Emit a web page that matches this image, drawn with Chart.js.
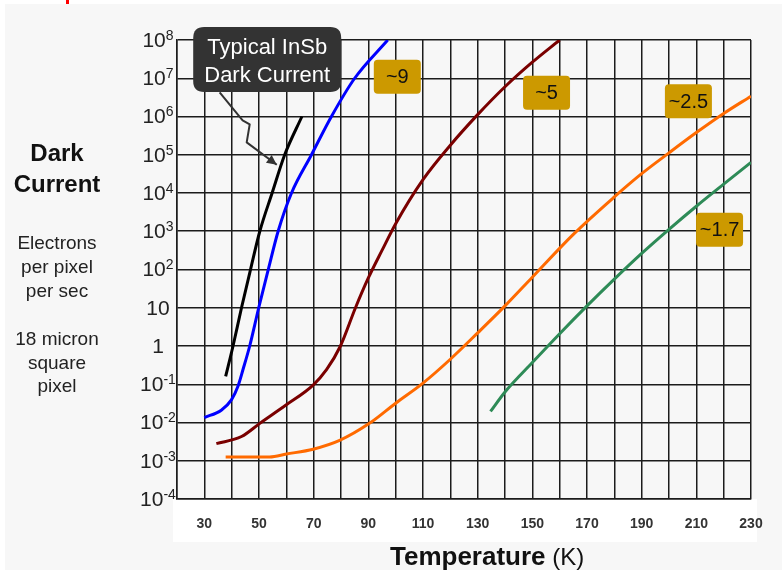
<!DOCTYPE html>
<html>
<head>
<meta charset="utf-8">
<script src="https://cdn.jsdelivr.net/npm/chart.js@4.4.1/dist/chart.umd.min.js"></script>
<style>
  body { margin: 0; background: #ffffff; }
  canvas { display: block; }
</style>
</head>
<body>
<canvas id="darkChart" width="782" height="570"></canvas>
<script>
'use strict';
// temperatures (K) and dark current (electrons/pixel/sec)
var insbTemps = [37.8, 40.5, 43.6, 46.9, 50.3, 54.8, 59.4, 65.7];
var insbCurrent = [1.6e-1, 1, 10, 100, 1e3, 1e4, 1e5, 1e6];

var blueTemps = [30, 36.2, 39.9, 42.3, 44.2, 46.6, 49.9, 53.4, 57, 61.9, 69.2, 76.5, 85, 97.1];
var blueCurrent = [1.35e-2, 2.1e-2, 3.9e-2, 8.9e-2, 2.5e-1, 1, 10, 100, 1e3, 1e4, 1e5, 1e6, 1e7, 1e8];

var redTemps = [34.4, 43.6, 50.3, 60, 69.8, 74.7, 79.8, 85.3, 90, 95, 100, 110, 120, 130, 140, 150, 160];
var redCurrent = [2.8e-3, 4.3e-3, 9.5e-3, 2.9e-2, 9.5e-2, 2.4e-1, 1, 10, 60, 316, 1.58e3, 2.24e4, 1.78e5, 1.12e6, 6.0e6, 2.63e7, 1e8];

var orangeTemps = [37.8, 53.9, 60, 69.8, 79.5, 90.4, 100, 110, 120, 130, 140, 150, 165, 180, 190, 200, 210, 220, 230];
var orangeCurrent = [1.26e-3, 1.26e-3, 1.5e-3, 2.0e-3, 3.4e-3, 9.5e-3, 3.2e-2, 0.107, 0.45, 2.2, 11.2, 63, 830, 7.9e3, 3.2e4, 1.12e5, 3.8e5, 1.2e6, 3.4e6];

var greenTemps = [134.7, 140, 150, 160, 170, 180, 190, 200, 210, 220, 230];
var greenCurrent = [1.95e-2, 6.3e-2, 0.37, 2.1, 11.2, 56, 263, 1.12e3, 4.5e3, 1.7e4, 6.3e4];

var xTickLabels = [30, 50, 70, 90, 110, 130, 150, 170, 190, 210, 230];
var yTickValues = [1e8, 1e7, 1e6, 1e5, 1e4, 1e3, 1e2, 10, 1, 1e-1, 1e-2, 1e-3, 1e-4];
var yTickLabels = ['10^8', '10^7', '10^6', '10^5', '10^4', '10^3', '10^2', '10', '1', '10^-1', '10^-2', '10^-3', '10^-4'];

// slope labels, placed in data units
var slopeLabels = ['~9', '~5', '~2.5', '~1.7'];
var slopeLabelTemps = [100.6, 155.2, 207.1, 218.5];
var slopeLabelCurrent = [1.1e7, 4.2e6, 2.5e6, 1.1e3];

var FONT = '"Liberation Sans", Arial, Helvetica, sans-serif';

function curve(label, xs, ys, colour) {
  return {
    label: label,
    data: xs.map(function(t, i) { return {x: t, y: ys[i]}; }),
    borderColor: colour,
    borderWidth: 3,
    pointRadius: 0,
    fill: false,
    cubicInterpolationMode: 'monotone'
  };
}

function roundBox(ctx, x, y, w, h, r) {
  ctx.beginPath();
  ctx.moveTo(x + r, y);
  ctx.lineTo(x + w - r, y);
  ctx.quadraticCurveTo(x + w, y, x + w, y + r);
  ctx.lineTo(x + w, y + h - r);
  ctx.quadraticCurveTo(x + w, y + h, x + w - r, y + h);
  ctx.lineTo(x + r, y + h);
  ctx.quadraticCurveTo(x, y + h, x, y + h - r);
  ctx.lineTo(x, y + r);
  ctx.quadraticCurveTo(x, y, x + r, y);
  ctx.closePath();
}

var backdrop = {
  id: 'backdrop',
  beforeDraw: function(chart) {
    var ctx = chart.ctx;
    var area = chart.chartArea;
    ctx.save();
    ctx.fillStyle = '#ffffff';
    ctx.fillRect(0, 0, chart.width, chart.height);
    ctx.fillStyle = '#f7f7f7';
    ctx.fillRect(5, 4, chart.width - 5, chart.height - 4);
    ctx.fillStyle = '#ffffff';
    ctx.fillRect(area.left - 4, area.bottom, area.right - area.left + 10, 43);
    ctx.fillStyle = '#ff0000';
    ctx.fillRect(66, 0, 3, 4);
    ctx.restore();
  }
};

var extras = {
  id: 'extras',
  afterDraw: function(chart) {
    var ctx = chart.ctx;
    var xs = chart.scales.x;
    var ys = chart.scales.y;
    var area = chart.chartArea;
    ctx.save();

    // y tick labels with superscripts
    ctx.fillStyle = '#222';
    ctx.textBaseline = 'middle';
    yTickLabels.forEach(function(lab, i) {
      var parts = lab.split('^');
      var py = ys.getPixelForValue(yTickValues[i]);
      ctx.font = '21px ' + FONT;
      var wb = ctx.measureText(parts[0]).width;
      ctx.font = '14px ' + FONT;
      var we = parts[1] ? ctx.measureText(parts[1]).width : 0;
      var left = area.left - 19 - (wb + we) / 2;
      ctx.font = '21px ' + FONT;
      ctx.textAlign = 'left';
      ctx.fillText(parts[0], left, py + 1);
      if (parts[1]) {
        ctx.font = '14px ' + FONT;
        ctx.fillText(parts[1], left + wb, py - 4);
      }
    });

    // left axis description
    ctx.textAlign = 'center';
    ctx.fillStyle = '#111';
    ctx.font = 'bold 24px ' + FONT;
    ctx.fillText('Dark', 57, 154);
    ctx.fillText('Current', 57, 185);
    ctx.fillStyle = '#222';
    ctx.font = '19px ' + FONT;
    ['Electrons', 'per pixel', 'per sec'].forEach(function(t, i) {
      ctx.fillText(t, 57, 244 + i * 24);
    });
    ['18 micron', 'square', 'pixel'].forEach(function(t, i) {
      ctx.fillText(t, 57, 340 + i * 23.5);
    });

    // x axis title
    ctx.textAlign = 'left';
    ctx.fillStyle = '#111';
    ctx.font = 'bold 26px ' + FONT;
    ctx.fillText('Temperature', 390, 558);
    var tw = ctx.measureText('Temperature').width;
    ctx.font = '24px ' + FONT;
    ctx.fillText(' (K)', 390 + tw, 558);

    // slope labels
    slopeLabels.forEach(function(t, i) {
      var cx = xs.getPixelForValue(slopeLabelTemps[i]);
      var cy = ys.getPixelForValue(slopeLabelCurrent[i]);
      ctx.fillStyle = '#cc9900';
      roundBox(ctx, cx - 23.5, cy - 17, 47, 34, 4);
      ctx.fill();
      ctx.fillStyle = '#111';
      ctx.font = '20px ' + FONT;
      ctx.textAlign = 'center';
      ctx.fillText(t, cx, cy + 1);
    });

    // callout with zig-zag arrow
    var arrowTemps = [35.6, 44.0, 46.6, 45.5, 56.5];
    var arrowCurrent = [4.3e6, 7.9e5, 6.2e5, 2.1e5, 5.5e4];
    var pts = arrowTemps.map(function(t, i) {
      return [xs.getPixelForValue(t), ys.getPixelForValue(arrowCurrent[i])];
    });
    ctx.strokeStyle = '#333';
    ctx.lineWidth = 2;
    ctx.lineJoin = 'round';
    ctx.beginPath();
    ctx.moveTo(pts[0][0], pts[0][1]);
    for (var k = 1; k < pts.length; k++) { ctx.lineTo(pts[k][0], pts[k][1]); }
    ctx.stroke();
    var tip = pts[pts.length - 1];
    var prev = pts[pts.length - 2];
    var ang = Math.atan2(tip[1] - prev[1], tip[0] - prev[0]);
    ctx.fillStyle = '#333';
    ctx.beginPath();
    ctx.moveTo(tip[0], tip[1]);
    ctx.lineTo(tip[0] - 11 * Math.cos(ang - 0.45), tip[1] - 11 * Math.sin(ang - 0.45));
    ctx.lineTo(tip[0] - 11 * Math.cos(ang + 0.45), tip[1] - 11 * Math.sin(ang + 0.45));
    ctx.closePath();
    ctx.fill();

    var bx = xs.getPixelForValue(53);
    var by = ys.getPixelForValue(3.1e7);
    ctx.fillStyle = '#333333';
    roundBox(ctx, bx - 74, by - 32.5, 148, 65, 11);
    ctx.fill();
    ctx.fillStyle = '#ffffff';
    ctx.font = '22px ' + FONT;
    ctx.textAlign = 'center';
    ctx.fillText('Typical InSb', bx, by - 12);
    ctx.fillText('Dark Current', bx, by + 16);

    ctx.restore();
  }
};

var gridStyle = {color: '#1c1c1c', lineWidth: 1.5, drawTicks: false};
var borderStyle = {color: '#1c1c1c', width: 1.5};

new Chart(document.getElementById('darkChart').getContext('2d'), {
  type: 'line',
  data: {
    datasets: [
      curve('~9', blueTemps, blueCurrent, '#0000ff'),
      curve('~5', redTemps, redCurrent, '#7a0000'),
      curve('~2.5', orangeTemps, orangeCurrent, '#ff6a00'),
      curve('~1.7', greenTemps, greenCurrent, '#2e8b57'),
      curve('Typical InSb', insbTemps, insbCurrent, '#000000')
    ]
  },
  options: {
    responsive: false,
    animation: false,
    layout: {padding: {left: 177, right: 31, top: 40, bottom: 0}},
    plugins: {legend: {display: false}, tooltip: {enabled: false}},
    scales: {
      x: {
        type: 'linear',
        min: 20,
        max: 230,
        afterFit: function(s) { s.height = 71; },
        ticks: {
          stepSize: 10,
          autoSkip: false,
          maxRotation: 0,
          padding: 17,
          color: '#333',
          font: {family: FONT, size: 14, weight: 'bold'},
          callback: function(v) {
            return xTickLabels.indexOf(Math.round(v)) >= 0 ? String(Math.round(v)) : '';
          }
        },
        grid: gridStyle,
        border: borderStyle
      },
      y: {
        type: 'logarithmic',
        min: 1e-4,
        max: 1e8,
        afterBuildTicks: function(s) {
          s.ticks = yTickValues.map(function(v) { return {value: v}; });
        },
        afterFit: function(s) { s.width = 0; },
        ticks: {display: false},
        grid: gridStyle,
        border: borderStyle
      }
    }
  },
  plugins: [backdrop, extras]
});
</script>
</body>
</html>
